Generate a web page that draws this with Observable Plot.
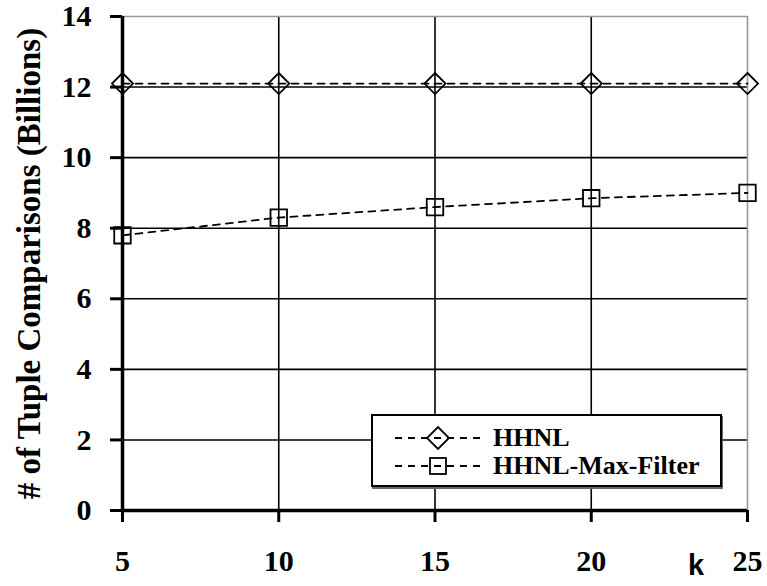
<!DOCTYPE html>
<html>
<head>
<meta charset="utf-8">
<script src="https://cdn.jsdelivr.net/npm/d3@7"></script>
<script src="https://cdn.jsdelivr.net/npm/@observablehq/plot@0.6"></script>
<style>
  html, body { margin: 0; padding: 0; background: #fff; }
  #wrap { position: relative; width: 767px; height: 586px; font-family: "Liberation Serif", "DejaVu Serif", serif; }
  #legend { position: absolute; left: 371px; top: 414px; width: 347px; height: 69px; border: 2px solid #000; background: #fff; box-shadow: 1px 2px 0 #666; font-weight: bold; font-size: 26px; }
  #legend .row { position: absolute; left: 20px; height: 30px; display: flex; align-items: center; }
  #legend .row span { margin-left: 6px; }
  #klabel { position: absolute; left: 688px; top: 549px; font-family: "Liberation Sans", Arial, sans-serif; font-weight: bold; font-size: 29px; }
</style>
</head>
<body>
<div id="wrap"></div>
<script>
const kValues = [5, 10, 15, 20, 25];
const hhnl = [12.1, 12.1, 12.1, 12.1, 12.1];
const hhnlMaxFilter = [7.8, 8.3, 8.6, 8.85, 9.0];
const seriesNames = ["HHNL", "HHNL-Max-Filter"];
const yTicks = [0, 2, 4, 6, 8, 10, 12, 14];
const xTicks = [5, 10, 15, 20, 25];

const rows = [];
kValues.forEach((k, i) => {
  rows.push({k, v: hhnl[i], s: seriesNames[0]});
  rows.push({k, v: hhnlMaxFilter[i], s: seriesNames[1]});
});
const A = rows.filter(d => d.s === seriesNames[0]);
const B = rows.filter(d => d.s === seriesNames[1]);

const chart = Plot.plot({
  width: 767,
  height: 586,
  marginLeft: 122,
  marginRight: 20,
  marginTop: 16,
  marginBottom: 76,
  style: { fontFamily: "Liberation Serif, serif", fontWeight: "bold", background: "#fff", overflow: "visible" },
  x: { domain: [5, 25] },
  y: { domain: [0, 14] },
  marks: [
    Plot.gridY(yTicks.filter(t => t > 0 && t < 14), { stroke: "#000", strokeOpacity: 1, strokeWidth: 1.6 }),
    Plot.gridX(xTicks.filter(t => t > 5 && t < 25), { stroke: "#000", strokeOpacity: 1, strokeWidth: 1.6 }),
    Plot.ruleY([14], { stroke: "#999", strokeWidth: 1.6 }),
    Plot.ruleX([25], { stroke: "#999", strokeWidth: 1.6 }),
    Plot.axisY({ ticks: yTicks, tickSize: 12, tickPadding: 19, fontSize: 30, strokeWidth: 3, label: null }),
    Plot.axisY({ ticks: [], tickSize: 0, fontSize: 33,
      label: "# of Tuple Comparisons (Billions)", labelAnchor: "center", labelArrow: "none", labelOffset: 106 }),
    Plot.axisX({ ticks: xTicks, tickSize: 12, tickPadding: 27, fontSize: 30, strokeWidth: 3, label: null }),
    Plot.ruleX([5], { stroke: "#000", strokeWidth: 3.5 }),
    Plot.ruleY([0], { stroke: "#000", strokeWidth: 3.5 }),
    Plot.line(A, { x: "k", y: "v", stroke: "#000", strokeWidth: 1.8, strokeDasharray: "7,6" }),
    Plot.line(B, { x: "k", y: "v", stroke: "#000", strokeWidth: 1.8, strokeDasharray: "7,6" }),
    Plot.dot(A, { x: "k", y: "v", symbol: "diamond2", r: 9.5, stroke: "#000", strokeWidth: 1.8, fill: "none" }),
    Plot.dot(B, { x: "k", y: "v", symbol: "square2", r: 10.5, stroke: "#000", strokeWidth: 1.8, fill: "none" })
  ]
});

const wrap = document.getElementById("wrap");
wrap.appendChild(chart);

const legend = document.createElement("div");
legend.id = "legend";
const symbols = [
  '<polygon points="45,4 56,15 45,26 34,15" fill="none" stroke="#000" stroke-width="1.8"/>',
  '<rect x="37" y="7" width="16" height="16" fill="none" stroke="#000" stroke-width="1.8"/>'
];
seriesNames.forEach((name, i) => {
  const row = document.createElement("div");
  row.className = "row";
  row.style.top = (i === 0 ? 7 : 35) + "px";
  row.innerHTML = `<svg width="94" height="30"><line x1="2" y1="15" x2="92" y2="15" stroke="#000" stroke-width="1.8" stroke-dasharray="7,6"/>${symbols[i]}</svg><span>${name}</span>`;
  legend.appendChild(row);
});
wrap.appendChild(legend);

const k = document.createElement("div");
k.id = "klabel";
k.textContent = "k";
wrap.appendChild(k);
</script>
</body>
</html>
